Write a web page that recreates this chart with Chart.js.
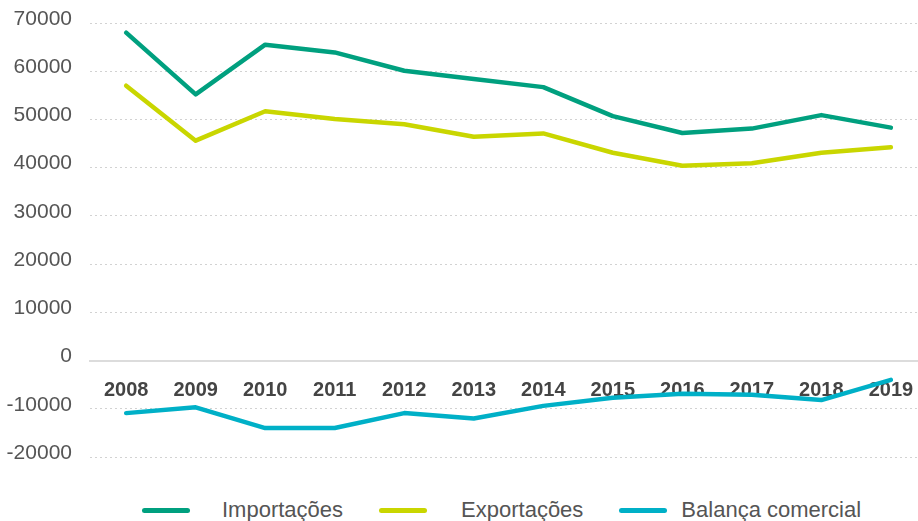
<!DOCTYPE html>
<html>
<head>
<meta charset="utf-8">
<script src="https://cdn.jsdelivr.net/npm/chart.js@4/dist/chart.umd.min.js"></script>
<style>
    body { margin: 0; background: #fff; width: 918px; height: 521px; overflow: hidden; position: relative; }
    #wrap { position: absolute; left: 0; top: 0; width: 918px; height: 470px; }
    #legend { position: absolute; left: 142px; top: 497px; display: flex; align-items: center;
        font-family: 'Liberation Sans', Arial, sans-serif; font-size: 22px; color: #555; }
    #legend .sw { width: 48px; height: 5px; border-radius: 3px; }
</style>
</head>
<body>
<div id="wrap"><canvas id="chart"></canvas></div>
<div id="legend"></div>
<script>
// Comércio externo 2008-2019

const years = [2008, 2009, 2010, 2011, 2012, 2013, 2014, 2015, 2016, 2017, 2018, 2019];
const importacoes = [68000, 55200, 65500, 63900, 60100, 58400, 56700, 50700, 47200, 48100, 50900, 48300];
const exportacoes = [57000, 45600, 51700, 50100, 49000, 46400, 47100, 43100, 40400, 40900, 43100, 44250];
const balanca = [-10900, -9700, -14000, -14000, -10900, -12000, -9400, -7700, -6900, -7100, -8200, -4000];
const seriesNames = ['Importações', 'Exportações', 'Balança comercial'];
const seriesColors = ['#00a07f', '#c9d600', '#00b0c7'];
const yTicks = [-20000, -10000, 0, 10000, 20000, 30000, 40000, 50000, 60000, 70000];

const allSeries = [importacoes, exportacoes, balanca];

const datasets = allSeries.map((values, i) => ({
    label: seriesNames[i],
    data: values.map((v, j) => ({ x: years[j], y: v })),
    borderColor: seriesColors[i],
    backgroundColor: seriesColors[i],
    borderWidth: 4.5,
    borderCapStyle: 'round',
    borderJoinStyle: 'round',
    pointRadius: 0,
    tension: 0,
    fill: false
}));

new Chart(document.getElementById('chart'), {
    type: 'line',
    data: { datasets },
    options: {
        responsive: true,
        maintainAspectRatio: false,
        animation: false,
        layout: { padding: { top: 23, bottom: 13, right: 0, left: 0 } },
        plugins: {
            legend: { display: false },
            tooltip: { enabled: false }
        },
        scales: {
            x: {
                type: 'linear',
                position: { y: 0 },
                min: 2007.48,
                max: 2019.39,
                z: 1,
                afterFit: scale => { scale.paddingLeft = 0; scale.paddingRight = 0; },
                grid: { color: 'rgba(0,0,0,0)', drawTicks: false },
                border: { display: true, color: '#dcdcdc', width: 2 },
                ticks: {
                    stepSize: 1,
                    includeBounds: false,
                    padding: 18,
                    color: '#444',
                    font: { family: "'Liberation Sans', Arial, sans-serif", size: 20, weight: 'bold' },
                    callback: v => String(v)
                }
            },
            y: {
                min: yTicks[0],
                max: yTicks[yTicks.length - 1],
                afterFit: scale => { scale.width = 90; scale.paddingTop = 0; scale.paddingBottom = 0; },
                afterBuildTicks: scale => { scale.ticks = yTicks.map(v => ({ value: v })); },
                grid: {
                    drawTicks: false,
                    color: c => c.tick && c.tick.value === 0 ? 'rgba(0,0,0,0)' : '#d2d2d2'
                },
                border: { display: false, dash: [2, 3] },
                ticks: {
                    padding: 18,
                    labelOffset: -4,
                    color: '#555',
                    font: { family: "'Liberation Sans', Arial, sans-serif", size: 21 },
                    callback: v => String(v)
                }
            }
        }
    }
});

// legend built from the series names
const legend = document.getElementById('legend');
const swGap = [32, 34, 14];
seriesNames.forEach((name, i) => {
    const sw = document.createElement('span');
    sw.className = 'sw';
    sw.style.background = seriesColors[i];
    sw.style.marginRight = swGap[i] + 'px';
    const txt = document.createElement('span');
    txt.textContent = name;
    txt.style.marginRight = '36px';
    legend.appendChild(sw);
    legend.appendChild(txt);
});
</script>
</body>
</html>
